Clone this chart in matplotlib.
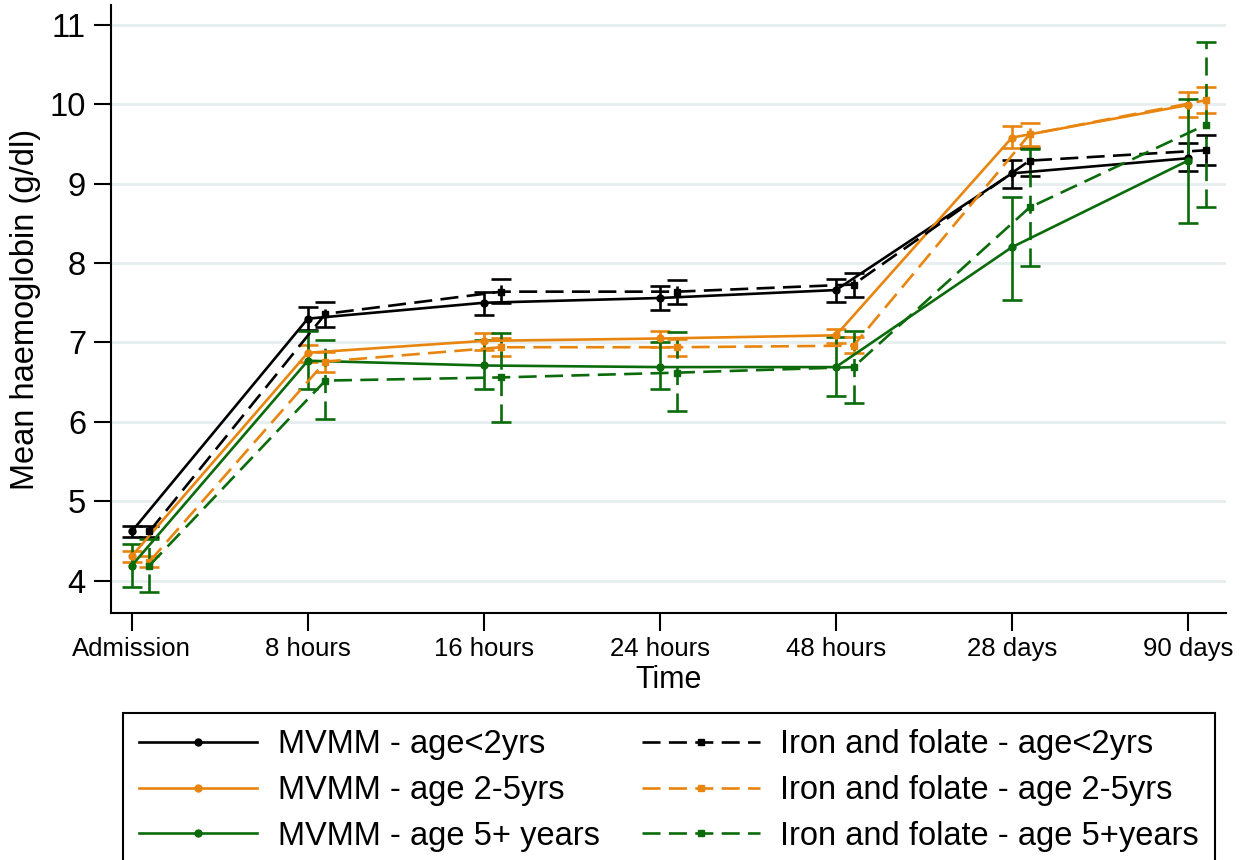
import numpy as np
import matplotlib.pyplot as plt
from matplotlib.lines import Line2D

plt.rcParams['font.family'] = ['Liberation Sans', 'DejaVu Sans']
plt.rcParams['lines.scale_dashes'] = False

times = ['Admission', '8 hours', '16 hours', '24 hours', '48 hours', '28 days', '90 days']

# mean Hb and 95% CI, MVMM arm
mvmm_lt2 = [4.62, 7.30, 7.50, 7.56, 7.66, 9.13, 9.32]
mvmm_lt2_lo = [4.55, 7.16, 7.34, 7.41, 7.51, 8.95, 9.16]
mvmm_lt2_hi = [4.69, 7.45, 7.64, 7.71, 7.80, 9.30, 9.51]

mvmm_2to5 = [4.31, 6.87, 7.02, 7.05, 7.09, 9.58, 9.99]
mvmm_2to5_lo = [4.24, 6.76, 6.91, 6.94, 6.99, 9.45, 9.84]
mvmm_2to5_hi = [4.38, 6.97, 7.12, 7.15, 7.17, 9.72, 10.15]

mvmm_5plus = [4.19, 6.77, 6.71, 6.69, 6.69, 8.20, 9.29]
mvmm_5plus_lo = [3.92, 6.41, 6.42, 6.41, 6.33, 7.53, 8.51]
mvmm_5plus_hi = [4.46, 7.14, 7.03, 7.00, 7.07, 8.83, 10.06]

# iron and folate arm
if_lt2 = [4.62, 7.36, 7.64, 7.64, 7.73, 9.29, 9.42]
if_lt2_lo = [4.55, 7.20, 7.50, 7.49, 7.57, 9.10, 9.23]
if_lt2_hi = [4.69, 7.51, 7.80, 7.79, 7.87, 9.45, 9.61]

if_2to5 = [4.24, 6.76, 6.94, 6.94, 6.96, 9.62, 10.05]
if_2to5_lo = [4.17, 6.63, 6.83, 6.83, 6.87, 9.47, 9.89]
if_2to5_hi = [4.31, 6.88, 7.06, 7.04, 7.07, 9.77, 10.22]

if_5plus = [4.19, 6.52, 6.56, 6.62, 6.69, 8.70, 9.74]
if_5plus_lo = [3.86, 6.04, 6.00, 6.14, 6.24, 7.96, 8.70]
if_5plus_hi = [4.52, 7.03, 7.12, 7.13, 7.14, 9.44, 10.79]

BLACK = '#000000'
ORANGE = '#e8850f'
GREEN = '#0b6b0b'
DASH = (0, (13, 6))
LW = 1.9

x = np.arange(len(times))
shift = 0.1

fig = plt.figure(figsize=(12.47, 8.6), dpi=100)
ax = fig.add_axes([111/1247, 1 - 613/860, 1115/1247, 608/860])

series = [
    (mvmm_lt2, mvmm_lt2_lo, mvmm_lt2_hi, BLACK, 'o', '-', 0.0),
    (mvmm_2to5, mvmm_2to5_lo, mvmm_2to5_hi, ORANGE, 'o', '-', 0.0),
    (mvmm_5plus, mvmm_5plus_lo, mvmm_5plus_hi, GREEN, 'o', '-', 0.0),
    (if_lt2, if_lt2_lo, if_lt2_hi, BLACK, 's', DASH, shift),
    (if_2to5, if_2to5_lo, if_2to5_hi, ORANGE, 's', DASH, shift),
    (if_5plus, if_5plus_lo, if_5plus_hi, GREEN, 's', DASH, shift),
]

for mean, lo, hi, col, mk, ls, dx in series:
    mean = np.array(mean)
    err = [mean - np.array(lo), np.array(hi) - mean]
    line, caps, bars = ax.errorbar(x + dx, mean, yerr=err, color=col, lw=LW,
                                   marker=mk, ms=5, linestyle=ls,
                                   capsize=7.5, capthick=LW, elinewidth=LW)
    if ls != '-':
        bars[0].set_linestyle(DASH)

ax.set_xlim(-0.118, 6.216)
ax.set_ylim(3.593, 11.25)
ax.set_xticks(x)
ax.set_xticklabels(times, fontsize=18.5)
ax.set_yticks(range(4, 12))
ax.tick_params(axis='y', labelsize=23.5, length=12, width=1.5, pad=6)
ax.tick_params(axis='x', length=13, width=1.5, pad=4)
ax.grid(axis='y', color='#e6eef0', lw=2)
ax.set_axisbelow(True)
for s in ['top', 'right']:
    ax.spines[s].set_visible(False)
for s in ['left', 'bottom']:
    ax.spines[s].set_linewidth(1.5)

ax.set_xlabel('Time', fontsize=22, labelpad=3)
ax.set_ylabel('Mean haemoglobin (g/dl)', fontsize=23.5, labelpad=6)

labels = ['MVMM - age<2yrs', 'MVMM - age 2-5yrs', 'MVMM - age 5+ years',
          'Iron and folate - age<2yrs', 'Iron and folate - age 2-5yrs',
          'Iron and folate - age 5+years']
handles = [Line2D([], [], color=c, lw=LW, marker=mk, ms=5, linestyle=ls)
           for _, _, _, c, mk, ls, _ in series]
leg = fig.legend(handles, labels, loc='upper left', bbox_to_anchor=(123/1247, 1 - 713/860),
                 ncol=2, fontsize=23.5, frameon=True, fancybox=False,
                 edgecolor='black', framealpha=1, handlelength=3.6,
                 handletextpad=0.64, columnspacing=1.3, labelspacing=0.45,
                 borderpad=0.5, borderaxespad=0)
leg.get_frame().set_linewidth(1.5)

fig.savefig('out.png', dpi=100)
